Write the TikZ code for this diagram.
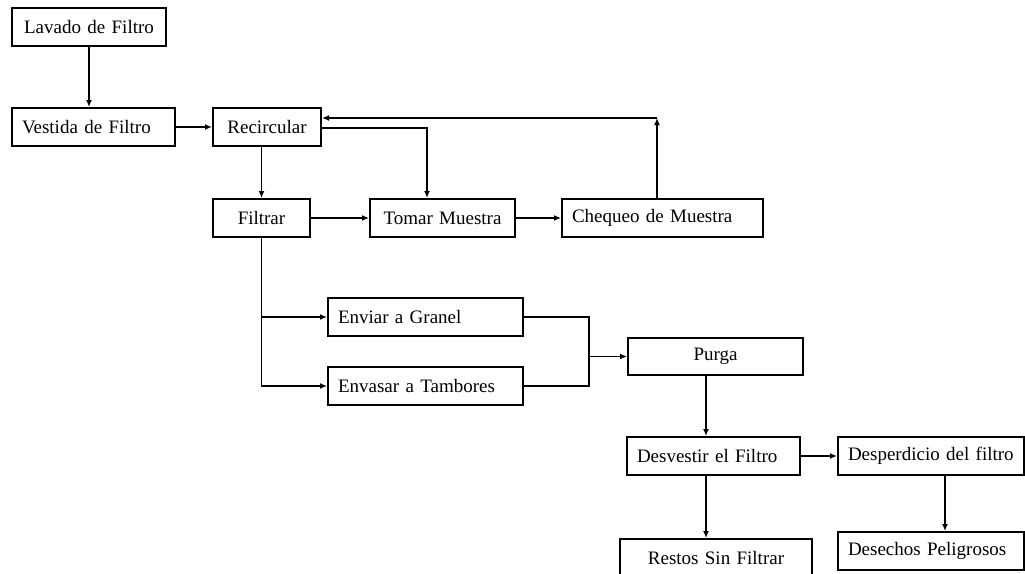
\documentclass[tikz,border=0pt]{standalone}
\usepackage{fontspec}
\setmainfont{Liberation Serif}
\usetikzlibrary{arrows.meta}
\begin{document}
\begin{tikzpicture}[x=1pt,y=-1pt,
  box/.style={draw, line width=2pt, inner xsep=10pt, inner ysep=2pt, minimum height=38pt,
    font=\fontsize{19}{22}\selectfont},
  lt/.style={align=left},
  ct/.style={align=center},
  arr/.style={line width=1.8pt, -{Latex[length=7pt,width=6pt]}},
  ln/.style={line width=1.8pt}]
\useasboundingbox (0,0) rectangle (1025,573);
\fill[white] (0,0) rectangle (1025,573);
% nodes
\node[box,ct,text width=134pt] (lav) at (89,27) {Lavado de Filtro};
\node[box,lt,text width=143pt] (ves) at (93.5,127) {Vestida de Filtro};
\node[box,ct,text width=88pt] (rec) at (267,127) {Recircular};
\node[box,ct,text width=77pt] (fil) at (261.5,218) {Filtrar};
\node[box,ct,text width=125pt] (tom) at (442.5,218) {Tomar Muestra};
\node[box,lt,text width=181pt] (che) at (662.5,218) {Chequeo de Muestra};
\node[box,lt,text width=175pt] (env) at (425.5,317) {Enviar a Granel};
\node[box,lt,text width=175pt] (tam) at (425.5,386) {Envasar a Tambores};
\node[box,ct,text width=155pt,minimum height=37pt] (pur) at (715.5,356.5) {Purga};
\node[box,lt,text width=153pt] (des) at (713.5,456) {Desvestir el Filtro};
\node[box,lt,text width=166pt] (dep) at (931,456) {Desperdicio del filtro};
\node[box,ct,text width=172pt] (res) at (716,558) {Restos Sin Filtrar};
\node[box,lt,text width=166pt] (dec) at (931,551) {Desechos Peligrosos};
% helper coordinates
\coordinate (cr) at (657,118);
\coordinate (rt) at (427,128);
\coordinate (mj) at (589,357);
\coordinate (pd) at (706,0);
\coordinate (dd) at (945,0);
% connectors
\draw[arr] (lav.south) -- (lav.south |- ves.north);
\draw[arr] (ves.east) -- (rec.west);
\draw[arr] (fil.north |- rec.south) -- (fil.north);
\draw[arr] (rec.east |- rt) -- (rt) -- (rt |- tom.north);
\draw[arr] (che.north -| cr) -- (cr);
\draw[arr] (cr) -- (rec.east |- cr);
\draw[arr] (fil.east) -- (tom.west);
\draw[arr] (tom.east) -- (che.west);
\draw[arr] (fil.south) -- (fil.south |- tam.west) -- (tam.west);
\draw[arr] (fil.south |- env.west) -- (env.west);
\draw[ln] (env.east) -- (env.east -| mj) -- (tam.east -| mj) -- (tam.east);
\draw[arr] (mj |- pur.west) -- (pur.west);
\draw[arr] (pur.south -| pd) -- (des.north -| pd);
\draw[arr] (des.east) -- (dep.west);
\draw[arr] (des.south -| pd) -- (res.north -| pd);
\draw[arr] (dep.south -| dd) -- (dec.north -| dd);
\end{tikzpicture}
\end{document}
